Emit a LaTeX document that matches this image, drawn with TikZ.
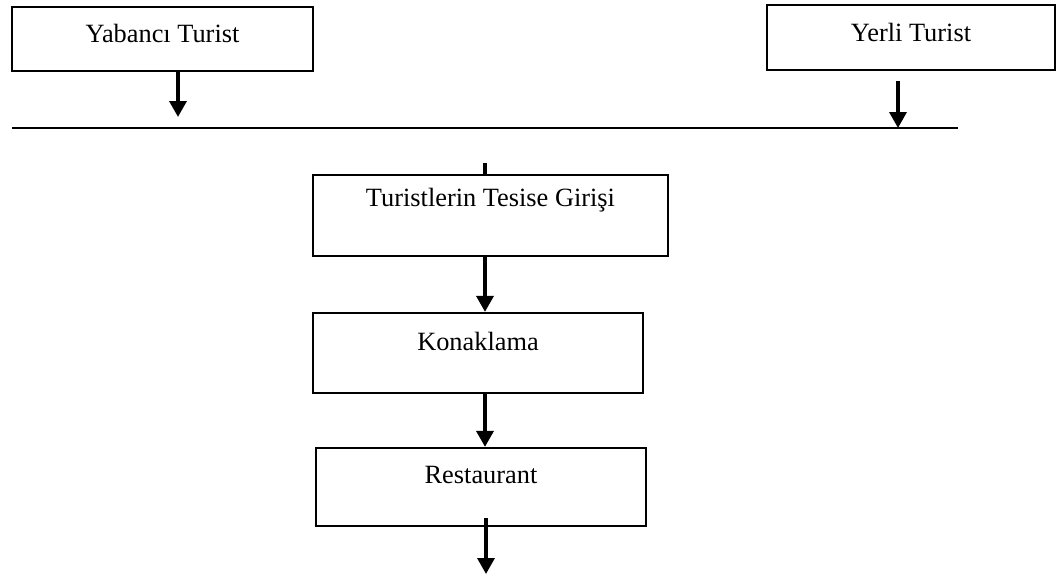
\documentclass[tikz,border=0pt]{standalone}
\usepackage{fontspec}
\setmainfont{Liberation Serif}
\usetikzlibrary{arrows.meta}

\begin{document}
\begin{tikzpicture}[x=0.02cm, y=-0.02cm,
		kutu/.style={draw, line width=1.3pt, inner sep=0pt, anchor=base,
			font=\fontsize{15}{18}\selectfont},
		ok/.style={line width=2pt, -{Triangle[length=0.32cm, width=0.34cm]}}]
				\useasboundingbox (0,0) rectangle (1061,574);
				\node[kutu, minimum width=6.02cm, text height=0.72cm, text depth=0.56cm] (yabanci) at (162.5,43) {Yabancı Turist};
				\node[kutu, minimum width=5.76cm, text height=0.74cm, text depth=0.56cm] (yerli) at (911,42) {Yerli Turist};
				\node[kutu, minimum width=7.1cm, text height=0.64cm, text depth=0.98cm] (giris) at (490.5,207) {Turistlerin Tesise Girişi};
				\node[kutu, minimum width=6.6cm, text height=0.74cm, text depth=0.86cm] (konak) at (478,350) {Konaklama};
				\node[kutu, minimum width=6.6cm, text height=0.70cm, text depth=0.86cm] (rest) at (481,483) {Restaurant};
				
				\coordinate (hsol) at (12,128);
				\coordinate (hsag) at (958,128);
				\coordinate (yabuc) at (178,117);
				\coordinate (yerliuc) at (898,128);
				\coordinate (ust) at (485,163);
				\coordinate (cikis) at (486,574);
				
				\draw[line width=1.3pt] (hsol) -- (hsag);
				\draw[ok] (yabanci.south -| yabuc) -- (yabuc);
				\draw[ok, shorten <=0.2cm] (yerli.south -| yerliuc) -- (yerliuc);
				\draw[line width=2pt] (ust) -- (giris.north -| ust);
				
				\foreach \u\v in {giris/konak, konak/rest}  % akis
				{	\draw[ok] (\u.south -| ust) -- (\v.north -| ust);
				}
				\draw[ok, shorten <=-0.18cm] (rest.south -| cikis) -- (cikis);
				
\end{tikzpicture}
\end{document}
